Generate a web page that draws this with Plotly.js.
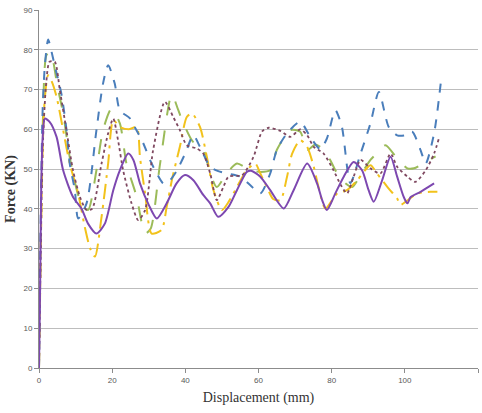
<!DOCTYPE html>
<html>
<head>
<meta charset="utf-8">
<script src="https://cdn.plot.ly/plotly-3.0.1.min.js"></script>
<style>html,body{margin:0;padding:0;background:#fff;}#chart{width:482px;height:413px;}</style>
</head>
<body>
<div id="chart"></div>
<script>
// Series: displacement (mm) vs force (kN)
const blueX = [0,0.5,1,1.6,2.5,3.3,4.3,6.1,7.5,8.4,9.8,10.7,13,15.7,17.5,18.9,20.7,22.1,24.8,26.5,28.5,30.5,32.2,34,35.8,37.6,40,42.2,44,46.8,49,51.3,55,57.7,60.5,63.2,65,67.8,71.4,74.2,76.9,78.7,81,82.8,85.1,87.9,90.6,92.9,95.6,97.9,100,102,104.3,105.7,108,109.8];
const blueY = [0,40,65,76,82.6,80,76,69,60,51.4,44.7,37.6,41.4,59.8,71.5,76.1,71.5,64.8,62.8,60,56.5,52,48.9,46.4,47.2,49.5,54,58.5,55.6,50.6,49.5,48.9,48.1,46,43.9,48.9,54.8,59,61.9,58,55,57.7,64.8,60.6,46.5,53.9,61.5,69.4,60.6,58.5,58.5,59.4,54.8,51.4,59,71.5];

const greenX = [0,0.5,1,2,2.9,3.8,5,6.6,8.4,11.2,13.4,15.7,17.5,19.8,22.1,23.9,26.7,29,30.5,33.1,36.3,38,39.5,42,44.9,46.8,48.6,51.3,54.1,57.7,60.5,63.2,65,68.7,71.4,73.3,75.5,77,79.6,81,83.3,85.6,87.9,90.6,92.4,94.7,97.9,100.7,102.5,105.7,108.4];
const greenY = [0,35,60,78.6,79.5,77.4,71,64,53,42.2,39.7,49.7,59.8,65.2,61.5,51.4,43,33.8,35,51.4,68.8,65,61.5,57,55,48.9,45.5,48.9,51.4,49.7,49.3,49.7,54.8,59.8,59.4,54.8,56.2,55.5,52.3,49.7,46.8,45.5,48.5,52.3,54,56,52.7,50.2,50.2,51.8,53.2];

const yellowX = [0,0.5,1,1.6,2.5,3.5,4.8,6.6,8.4,10.7,12.5,14,15.3,17.1,18.9,20.3,22.1,24.5,26.7,27.6,29,30.8,33.5,34.9,36.5,38.5,40.4,41.8,44,45.9,47.7,50,52,54.1,56.8,59.1,60.5,62.3,64,66,67.8,69.2,71.4,73.3,75.1,76.4,78.3,81.5,84.2,87,90.6,92.4,95.6,97.9,98.8,100.5,103.4,107,108.9];
const yellowY = [0,30,55,68,73.6,72,68.2,59.8,51.4,43.9,35.5,30,28,38,51.4,62.3,60.6,60,60.6,53,43.9,33.8,34.7,40.5,48,55.6,63.1,64,60.6,53,44.7,39.7,42,45.5,49.7,51.4,48.9,45.5,42.5,42.2,48.1,53.9,57.3,55.6,50.6,45.5,40.1,43.9,44.7,47.2,51,48.9,45.1,42.6,41,42,43.9,44.3,44.3];

const dotX = [0,0.5,1,2,2.9,4.3,5.7,7.5,9.3,11.2,13,14.5,17.1,18.9,20.3,21.6,23,25.3,27.1,29,31.2,34.4,36.7,38.5,40.4,43.1,44.9,46.8,48.6,50.4,51.8,55.5,58.6,61,62.8,66,68.7,71.4,73.3,75.1,77.8,80.5,82.5,84.2,86,87.9,90.6,93.3,96.1,97.9,100.7,102.9,105.7,108,109.3];
const dotY = [0,30,55,72,77,77,69.8,59.8,49.7,43,39.7,40,51.4,59,62.7,57.3,49.7,41.4,37.2,39.7,54.8,66.9,63.1,59.8,56,55.2,53.9,48.9,42.2,45.5,48.1,48.5,53,59.5,60.4,59.6,58.1,60,58.5,55.6,53.9,49.7,46,43.9,48.1,52.3,50.2,48.9,53.9,50.6,48.1,46.8,49.7,53.9,57.7];

const purpleX = [0,0.3,0.6,1,1.6,2.9,4.8,6.6,9.3,11.6,13.4,15.7,18,20.3,22.1,24.4,25.8,27.6,30,32.2,34.9,37.6,39.9,42.2,44.9,46.8,49,51.8,54.1,56.8,58,60.5,63.2,66.9,69.6,73.3,76,77.4,78.7,81,83.3,86,88.3,90.1,91.5,93.8,96.1,97.9,99.7,100.7,101.6,104.3,108];
const purpleY = [0,20,45,58,62.7,61.9,58.1,49.7,43,40.1,36.3,33.8,36.3,44.7,49.7,53.9,52.3,46.4,41,37.6,41.4,46.4,48.5,47.2,43.5,41.4,38,40.5,44.7,49.3,49.6,48.1,44.7,40.1,44.7,51.4,46.4,42.2,39.7,43.9,48.1,51.8,49.7,44.7,41.8,47.2,53.1,48.1,43,41.4,43,44.3,46.4];

const xTicks = [0,20,40,60,80,100,120];
const yTicks = [0,10,20,30,40,50,60,70,80,90];

function tr(x, y, color, dash, w) {
  return {x: x, y: y, type: 'scatter', mode: 'lines',
    line: {color: color, dash: dash, width: w, shape: 'spline', smoothing: 0.7},
    hoverinfo: 'skip', showlegend: false};
}

const data = [
  tr(greenX, greenY, '#9bbb59', 'longdash', 2),
  tr(yellowX, yellowY, '#f2c21b', 'longdashdot', 2),
  tr(blueX, blueY, '#4a7ebb', 'dash', 2),
  tr(dotX, dotY, '#7f4860', 'dot', 1.8),
  tr(purpleX, purpleY, '#7d48b0', 'solid', 2)
];

const layout = {
  width: 482, height: 413,
  margin: {l: 39, r: 4, t: 10, b: 45},
  paper_bgcolor: '#ffffff', plot_bgcolor: '#ffffff',
  showlegend: false,
  xaxis: {
    range: [0, 120], tickvals: xTicks, ticktext: xTicks.map(String),
    showgrid: false, zeroline: false,
    showline: true, linecolor: '#8c8c8c', linewidth: 1,
    ticks: 'outside', ticklen: 4, tickcolor: '#8c8c8c',
    tickfont: {family: 'Liberation Sans, Arial, sans-serif', size: 8, color: '#595959'},
    title: {text: 'Displacement (mm)', standoff: 8,
      font: {family: 'Liberation Serif, serif', size: 14, color: '#333333'}}
  },
  yaxis: {
    range: [0, 90], tickvals: yTicks, ticktext: yTicks.map(String),
    showgrid: true, gridcolor: '#bdbdbd', gridwidth: 1, zeroline: false,
    showline: true, linecolor: '#8c8c8c', linewidth: 1,
    ticks: 'outside', ticklen: 4, tickcolor: '#8c8c8c',
    tickfont: {family: 'Liberation Sans, Arial, sans-serif', size: 8, color: '#595959'},
    title: {text: '<b>Force (KN)</b>', standoff: 4,
      font: {family: 'Liberation Serif, serif', size: 14, color: '#333333'}}
  }
};

Plotly.newPlot('chart', data, layout, {staticPlot: true, displayModeBar: false});
</script>
</body>
</html>
